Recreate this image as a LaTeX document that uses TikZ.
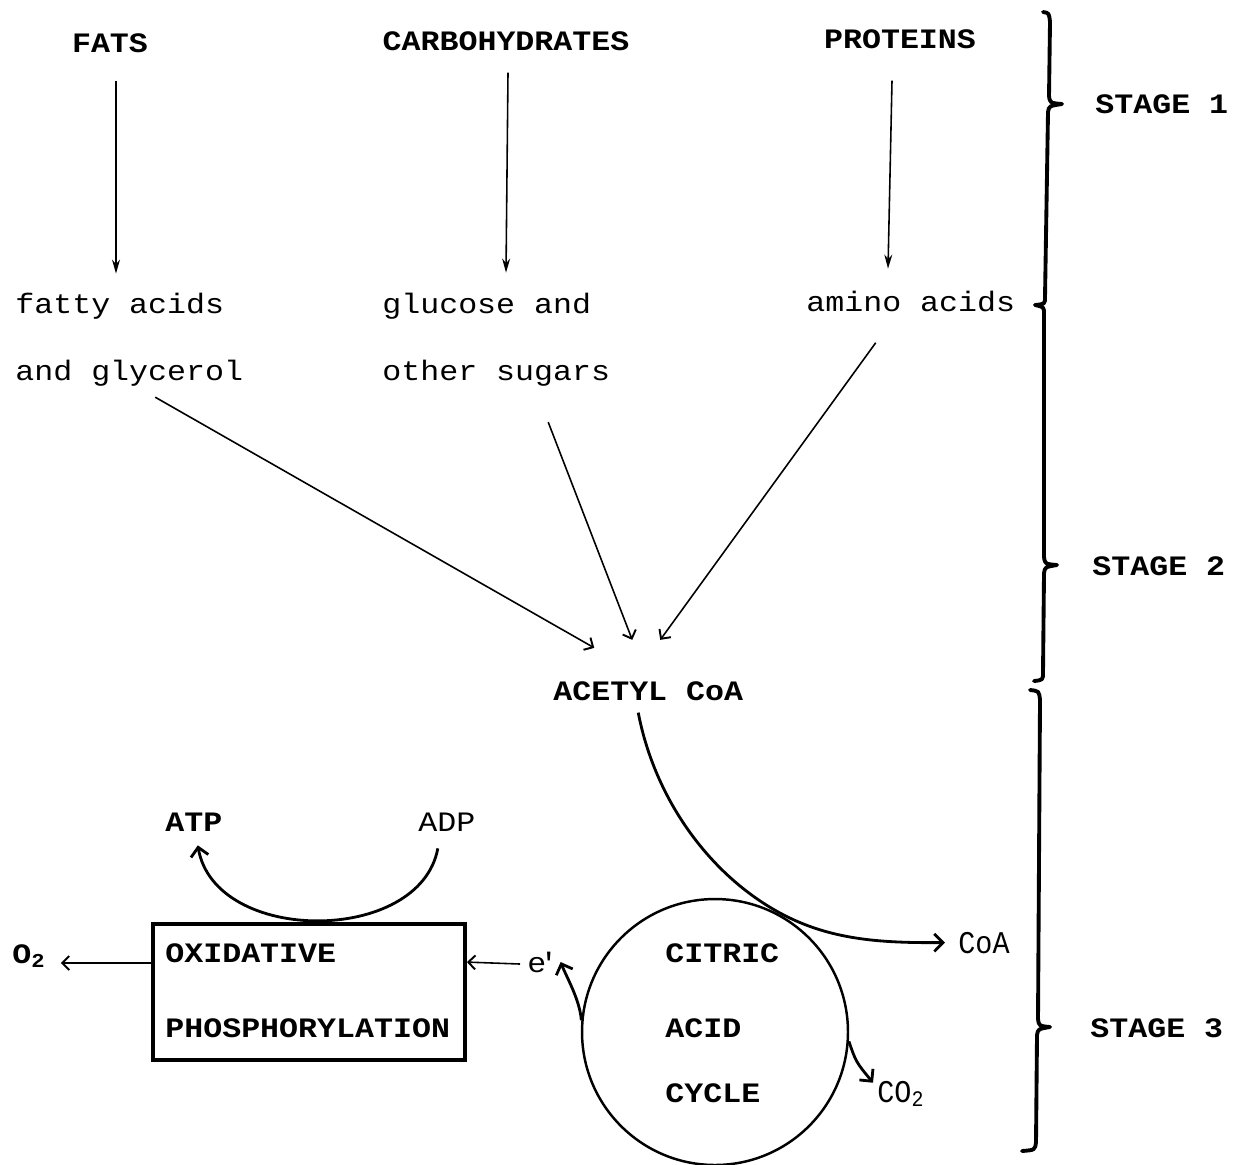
\documentclass[tikz,border=0pt]{standalone}
\usepackage{fontspec}
\usetikzlibrary{arrows.meta}
\newfontfamily\dotfont[FakeStretch=1.125]{Liberation Mono}
\newfontfamily\thinfont[FakeStretch=0.9]{Liberation Mono}
\begin{document}
\begin{tikzpicture}[x=0.02cm,y=-0.02cm,
  lab/.style={font=\dotfont\fontsize{16}{16}\selectfont, inner sep=0pt, anchor=base west},
  caps/.style={lab, font=\dotfont\bfseries\fontsize{16}{16}\selectfont},
  thin/.style={lab, font=\thinfont\fontsize{18}{18}\selectfont},
  varr/.style={line width=0.9pt, -{Stealth[length=8pt,width=4.5pt]}},
  darr/.style={line width=0.9pt, -{Straight Barb[length=4pt,width=8pt,line width=1.1pt]}},
  carr/.style={line width=1.6pt, -{Straight Barb[length=5pt,width=10pt,line width=1.6pt]}},
  brace/.style={line width=2.2pt, line cap=round, line join=round}]
\useasboundingbox (0,0) rectangle (1239,1164);

% stage 1 sources
\node[caps, anchor=base] (fats) at (110,52) {FATS};
\node[caps, anchor=base] (carbo) at (506,50) {CARBOHYDRATES};
\node[caps, anchor=base] (prot) at (900,48) {PROTEINS};

% stage 1 products
\node[lab] (fa) at (15,313) {fatty acids};
\node[lab] (gly) at (15,380) {and glycerol};
\node[lab] (glu) at (382,313) {glucose and};
\node[lab] (sug) at (382,380) {other sugars};
\node[lab] (amino) at (806,311) {amino acids};

\draw[varr] (fats.south) ++(6,28) -- ++(0,193);
\draw[varr] (carbo.south) ++(2,22) -- ++(-2,200);
\draw[varr] (prot.south) ++(-8,32) -- ++(-4,188);

% acetyl CoA
\node[caps] (acetyl) at (553,700) {ACETYL CoA};
\draw[darr] (gly.south) ++(26,11) -- ([shift={(-54,-33)}]acetyl.north);
\draw[darr] (sug.south) ++(52,36) -- ([shift={(-16,-41)}]acetyl.north);
\draw[darr] (amino.south) ++(-35,31) -- ([shift={(12,-41)}]acetyl.north);

% citric acid cycle
\node[circle, draw, line width=1.4pt, minimum size=5.32cm, inner sep=0pt] (tca) at (715,1032) {};
\node[caps] (cit) at (665,962) {CITRIC};
\node[caps] (acid) at (665,1037) {ACID};
\node[caps] (cyc) at (665,1102) {CYCLE};

\node[thin] (coa) at (958,953) {CoA};
\node[thin] (co2) at (877,1102) {CO\textsubscript{2}};

\draw[carr] ([shift={(-10,12)}]acetyl.south) .. controls (655,800) and (710,875) .. (780,913)
   .. controls (830,940) and (880,943) .. ([xshift=-0.26cm]coa.west);
\draw[carr] (tca.-4) .. controls (856,1062) .. ([shift={(-4,-11)}]co2.west);

% oxidative phosphorylation
\node[draw, line width=2.2pt, minimum width=6.24cm, minimum height=2.72cm, inner sep=0pt] (box) at (309,992) {};
\node[caps] (ox) at (165,962) {OXIDATIVE};
\node[caps] (phos) at (165,1037) {PHOSPHORYLATION};

\node[caps] (o2) at (12,963) {O\textsubscript{2}};
\node[lab] (em) at (527,972) {e\kern-4pt'};

\draw[darr] (box.west |- o2.base east) -- ([xshift=0.3cm]o2.base east);
\draw[darr] ([shift={(-7,-8)}]em.base west) -- ([yshift=-0.8cm]box.north east);
\draw[carr] (tca.175) .. controls (580,1000) and (566,976) .. ([shift={(2,-10)}]em.base east);

\node[caps] (atp) at (165,831) {ATP};
\node[lab] (adp) at (418,831) {ADP};
\draw[carr] ([shift={(-9,17)}]adp.south) .. controls (420,945) and (215,945) .. ([shift={(4,14)}]atp.south);

% stage braces
\draw[brace] (1043,12) .. controls (1049,13) .. (1050,22) -- (1049,96)
  .. controls (1050,103) .. (1062,104) .. controls (1049,106) .. (1048,112)
  -- (1045,297) .. controls (1045,304) .. (1035,305) .. controls (1044,307) .. (1044,314)
  -- (1044,557) .. controls (1045,564) .. (1057,565) .. controls (1045,567) .. (1044,573)
  -- (1043,672) .. controls (1043,680) .. (1034,681);
\draw[brace] (1030,690) .. controls (1039,691) .. (1040,700) -- (1038,1019)
  .. controls (1039,1026) .. (1050,1027) .. controls (1038,1029) .. (1037,1035)
  -- (1036,1142) .. controls (1035,1150) .. (1022,1151);

\node[caps] (s1) at (1095,113) {STAGE 1};
\node[caps] (s2) at (1092,575) {STAGE 2};
\node[caps] (s3) at (1090,1037) {STAGE 3};
\end{tikzpicture}
\end{document}
